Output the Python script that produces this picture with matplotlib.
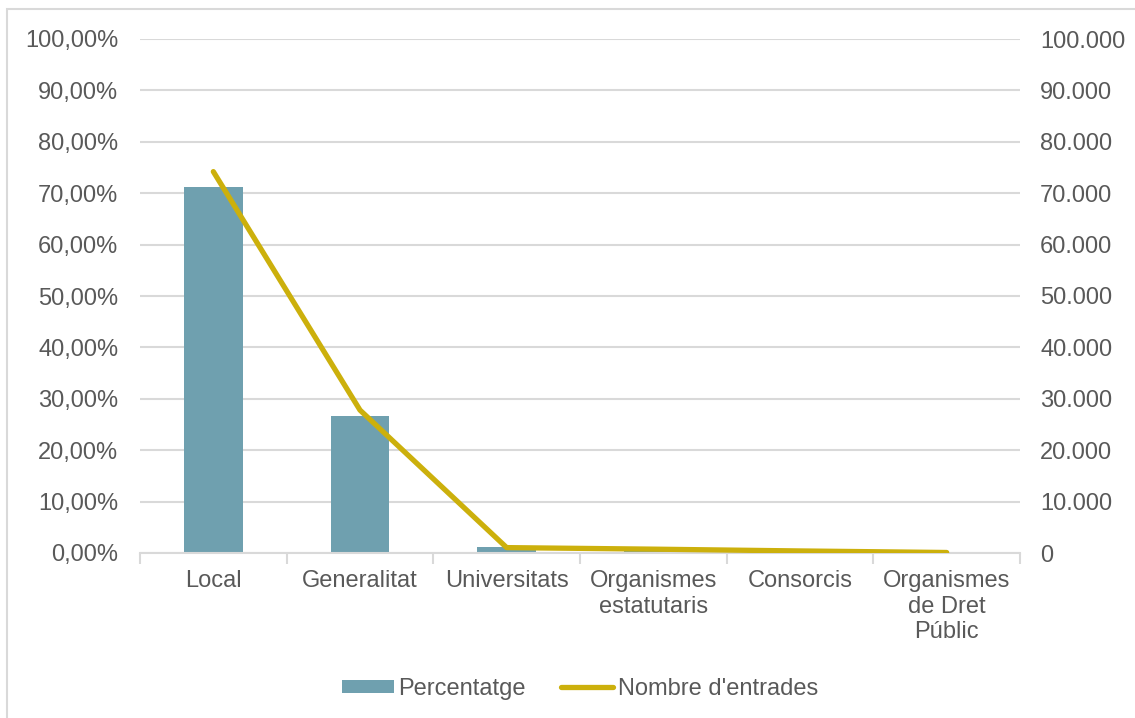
import matplotlib.pyplot as plt
from matplotlib.patches import Rectangle
from matplotlib.ticker import FuncFormatter, FixedLocator
import numpy as np

plt.rcParams['font.family'] = ['Liberation Sans', 'DejaVu Sans']

categories = ["Local", "Generalitat", "Universitats", "Organismes\nestatutaris",
              "Consorcis", "Organismes\nde Dret\nPúblic"]
percentatge = [71.14, 26.65, 1.1, 0.72, 0.38, 0.10]
entrades = [74200, 27800, 1050, 750, 400, 100]

bar_color = "#6FA0AF"
line_color = "#CCB00C"
text_color = "#595959"
grid_color = "#D9D9D9"
fs = 17

fig = plt.figure(figsize=(11.35, 7.18), dpi=100)
fig.patches.append(Rectangle((7 / 1135, -0.1), 1.2, 1 - 9 / 718 + 0.1,
                             transform=fig.transFigure, fill=False,
                             edgecolor=grid_color, linewidth=1.5))

ax = fig.add_axes([140 / 1135, 1 - 553 / 718, 880 / 1135, 514 / 718])
x = np.arange(len(categories))
bars = ax.bar(x, percentatge, width=0.4, color=bar_color, label="Percentatge", zorder=2)
ax.set_xlim(-0.5, len(categories) - 0.5)
ax.set_ylim(0, 100)
ax.set_yticks(np.arange(0, 101, 10))
ax.yaxis.set_major_formatter(FuncFormatter(lambda v, p: ("%.2f%%" % v).replace(".", ",")))
ax.grid(axis="y", color=grid_color, linewidth=1.5, zorder=0)
ax.set_axisbelow(True)
for s in ["top", "right", "left"]:
    ax.spines[s].set_visible(False)
ax.spines["bottom"].set_color(grid_color)
ax.spines["bottom"].set_linewidth(1.5)
ax.set_xticks(x)
ax.set_xticklabels(categories, fontsize=fs, color=text_color, linespacing=1.23, va="top")
ax.tick_params(axis="x", which="major", length=0, pad=12)
ax.xaxis.set_minor_locator(FixedLocator(np.arange(-0.5, len(categories), 1)))
ax.tick_params(axis="x", which="minor", length=8, color=grid_color, width=1.5)
ax.tick_params(axis="y", length=0, labelsize=fs, labelcolor=text_color, pad=15.5)

ax2 = ax.twinx()
line, = ax2.plot(x, entrades, color=line_color, linewidth=3.8,
                 solid_capstyle="round", label="Nombre d'entrades", zorder=3)
ax2.set_ylim(0, 100000)
ax2.set_yticks(np.arange(0, 100001, 10000))
ax2.yaxis.set_major_formatter(FuncFormatter(lambda v, p: "{:,}".format(int(v)).replace(",", ".")))
for s in ["top", "right", "left", "bottom"]:
    ax2.spines[s].set_visible(False)
ax2.tick_params(axis="y", length=0, labelsize=fs, labelcolor=text_color, pad=14.5)

fig.legend([bars, line], ["Percentatge", "Nombre d'entrades"], loc="center",
           bbox_to_anchor=(580 / 1135, 1 - 689 / 718), ncol=2, frameon=False,
           fontsize=fs, labelcolor=text_color, handlelength=2.2, handletextpad=0.2,
           columnspacing=1.5, handleheight=0.5)

fig.savefig("out.png", dpi=100)
